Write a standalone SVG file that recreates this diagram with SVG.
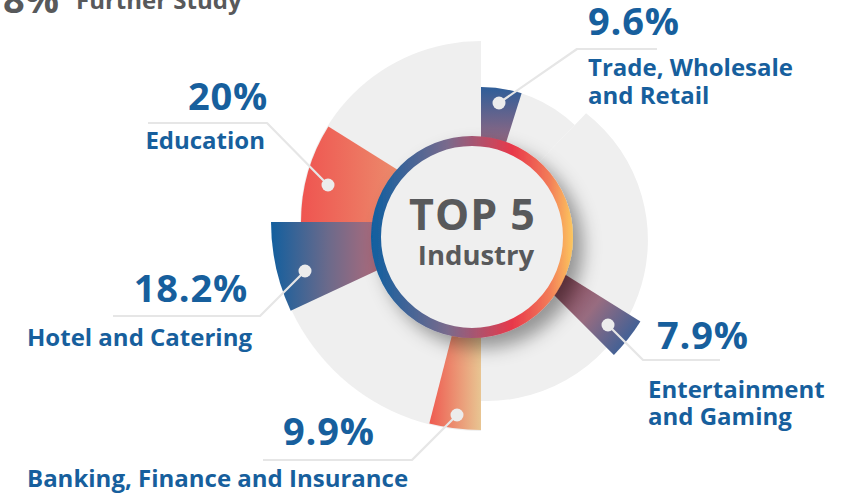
<svg xmlns="http://www.w3.org/2000/svg" width="850" height="498" viewBox="0 0 850 498">
<defs>
<style>
.bg{fill:#efefef}
.lead{fill:none;stroke:#e6e6e6;stroke-width:2.2;stroke-linejoin:round}
.dot{fill:#ececec}
.pct{font-family:"Open Sans","Noto Sans",sans-serif;font-weight:700;font-size:38px;letter-spacing:0.8px;fill:#175f9d}
.lbl{font-family:"Open Sans","Noto Sans",sans-serif;font-weight:700;font-size:24px;fill:#175f9d}
.gry{font-family:"Open Sans","Noto Sans",sans-serif;font-weight:700;fill:#58595b}
</style>
<linearGradient id="gRing" gradientUnits="userSpaceOnUse" x1="371" y1="0" x2="573" y2="0">
<stop offset="0" stop-color="#0f5fa0"/>
<stop offset="0.38" stop-color="#7a6a8c"/>
<stop offset="0.7" stop-color="#e8384a"/>
<stop offset="0.88" stop-color="#f27a58"/>
<stop offset="1" stop-color="#fcc75e"/>
</linearGradient>
<linearGradient id="gEdu" gradientUnits="userSpaceOnUse" x1="300" y1="0" x2="420" y2="0">
<stop offset="0" stop-color="#ef5450"/>
<stop offset="1" stop-color="#eb9772"/>
</linearGradient>
<linearGradient id="gHotel" gradientUnits="userSpaceOnUse" x1="271" y1="0" x2="385" y2="0">
<stop offset="0" stop-color="#135f9e"/>
<stop offset="0.5" stop-color="#6b6a8b"/>
<stop offset="1" stop-color="#b86a78"/>
</linearGradient>
<linearGradient id="gBank" gradientUnits="userSpaceOnUse" x1="429" y1="0" x2="481" y2="0">
<stop offset="0" stop-color="#ef5a50"/>
<stop offset="1" stop-color="#e8c592"/>
</linearGradient>
<linearGradient id="gTrade" gradientUnits="userSpaceOnUse" x1="0" y1="87" x2="0" y2="145">
<stop offset="0" stop-color="#2e5e99"/>
<stop offset="1" stop-color="#9a6880"/>
</linearGradient>
<linearGradient id="gEnt" gradientUnits="userSpaceOnUse" x1="555" y1="285" x2="632" y2="345">
<stop offset="0" stop-color="#8a4858"/>
<stop offset="0.45" stop-color="#986c80"/>
<stop offset="1" stop-color="#375f98"/>
</linearGradient>
<filter id="shadow" x="-30%" y="-30%" width="160%" height="160%">
<feDropShadow dx="10" dy="10" stdDeviation="9" flood-color="#000" flood-opacity="0.38"/>
</filter>
</defs>

<g id="backdrop">
<path class="bg" d="M481,222 L481,431 A209,209 0 0 1 272,222 Z"/>
<path class="bg" d="M481,222 L300,222 A181,181 0 0 1 481,41 Z"/>
<path class="bg" d="M481,222 L481,87 A135,135 0 0 1 574.8,125.1 Z"/>
<path class="bg" d="M481,222 L586.1,113.2 A161,161 0 0 1 481,400.9 Z"/>
</g>

<g id="trade-seg"><path fill="url(#gTrade)" d="M481,222 L481,87 A135,135 0 0 1 521.6,93.3 Z"/></g>
<g id="entertainment-seg"><path fill="url(#gEnt)" d="M481,222 L640.4,321.6 A188,188 0 0 1 613.9,354.9 Z"/></g>
<g id="banking-seg"><path fill="url(#gBank)" d="M481,222 L481,430 A208,208 0 0 1 429.3,423.5 Z"/></g>
<g id="hotel-seg"><path fill="url(#gHotel)" d="M481,222 L290.7,310.7 A210,210 0 0 1 271,222 Z"/></g>
<g id="education-seg"><path fill="url(#gEdu)" d="M481,222 L301,222 A180,180 0 0 1 328.4,126.6 Z"/></g>

<g id="center">
<circle cx="472" cy="237" r="96" fill="#efefef" stroke="url(#gRing)" stroke-width="10" filter="url(#shadow)"/>
<text x="472.5" y="230" text-anchor="middle" class="gry" font-size="43" letter-spacing="1">TOP 5</text>
<text x="476" y="265" text-anchor="middle" class="gry" font-size="27.5">Industry</text>
</g>

<g id="connectors">
<polyline class="lead" points="499,103 577,49 657,49"/>
<polyline class="lead" points="608,325 643,360 720,360"/>
<polyline class="lead" points="457,415 412,460 263,460"/>
<polyline class="lead" points="305,271 260,316 113,316"/>
<polyline class="lead" points="328,185 267,123 148,123"/>
<circle class="dot" cx="499" cy="103" r="6.5"/>
<circle class="dot" cx="608" cy="325" r="6.5"/>
<circle class="dot" cx="457" cy="415" r="6.5"/>
<circle class="dot" cx="305" cy="271" r="6.5"/>
<circle class="dot" cx="328" cy="185" r="6.5"/>
</g>

<g id="further-study">
<text x="3" y="12.5" class="gry" font-size="38">8%</text>
<text x="76" y="9" class="gry" font-size="24">Further Study</text>
</g>

<g id="trade">
<text x="588" y="35" class="pct">9.6%</text>
<text x="588" y="76" class="lbl">Trade, Wholesale</text>
<text x="588" y="104" class="lbl">and Retail</text>
</g>

<g id="entertainment">
<text x="657" y="349" class="pct">7.9%</text>
<text x="648" y="398" class="lbl">Entertainment</text>
<text x="648" y="425" class="lbl">and Gaming</text>
</g>

<g id="banking">
<text x="283" y="445" class="pct">9.9%</text>
<text x="27" y="487" class="lbl">Banking, Finance and Insurance</text>
</g>

<g id="hotel">
<text x="248" y="302" text-anchor="end" class="pct">18.2%</text>
<text x="252" y="346" text-anchor="end" class="lbl">Hotel and Catering</text>
</g>

<g id="education">
<text x="268" y="110" text-anchor="end" class="pct">20%</text>
<text x="265" y="149" text-anchor="end" class="lbl">Education</text>
</g>
</svg>
